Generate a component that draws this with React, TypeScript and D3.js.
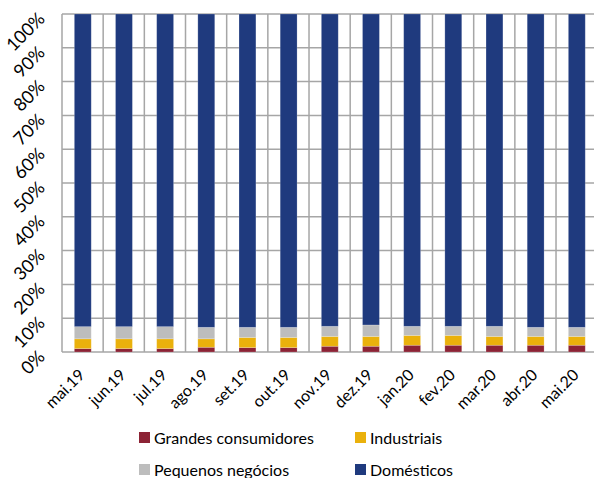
import React from 'react';
import * as d3 from 'd3';

const months = ['mai.19', 'jun.19', 'jul.19', 'ago.19', 'set.19', 'out.19', 'nov.19', 'dez.19', 'jan.20', 'fev.20', 'mar.20', 'abr.20', 'mai.20'];

// shares in % of total
const grandes = [1.0, 1.0, 1.0, 1.4, 1.3, 1.3, 1.7, 1.7, 2.0, 2.0, 2.0, 2.0, 2.0];
const industriais = [2.9, 2.9, 2.9, 2.5, 3.0, 3.0, 2.9, 2.9, 2.9, 2.9, 2.6, 2.6, 2.6];
const pequenos = [3.6, 3.6, 3.6, 3.4, 3.0, 3.0, 3.0, 3.4, 2.7, 2.7, 3.0, 2.7, 2.7];
const domesticos = months.map((_, i) => 100 - grandes[i] - industriais[i] - pequenos[i]);

const yTicks = [0, 10, 20, 30, 40, 50, 60, 70, 80, 90, 100];

const series = [
  { key: 'grandes', label: 'Grandes consumidores', color: '#8C2335' },
  { key: 'industriais', label: 'Industriais', color: '#EAB10C' },
  { key: 'pequenos', label: 'Pequenos negócios', color: '#BDBDBD' },
  { key: 'domesticos', label: 'Domésticos', color: '#1F3A7E' },
];

const rows = months.map((m, i) => ({
  month: m,
  grandes: grandes[i],
  industriais: industriais[i],
  pequenos: pequenos[i],
  domesticos: domesticos[i],
}));

const font = 'Lato, "Open Sans", sans-serif';
const gridColor = '#A6A6A6';

export default function App() {
  const width = 594;
  const height = 478;
  const left = 62;
  const top = 14;
  const bottom = 352;

  const x = d3.scaleBand().domain(months).range([left, left + 13 * 41.2]).paddingInner(0.59).paddingOuter(0.3);
  const y = d3.scaleLinear().domain([0, 100]).range([bottom, top]);
  const stacked = d3.stack<any>().keys(series.map(s => s.key))(rows);
  const step = x.step();
  const bandStart = (i: number) => left + i * step;

  const legend = [
    { s: series[0], x: 139, y: 438 },
    { s: series[1], x: 355, y: 438 },
    { s: series[2], x: 139, y: 470 },
    { s: series[3], x: 355, y: 470 },
  ];

  return (
    <div style={{ position: 'absolute', left: 0, top: 0 }}>
      <svg width={width} height={height} style={{ display: 'block', fontFamily: font }}>
        <rect width={width} height={height} fill="#fff" />
        {/* horizontal grid */}
        {yTicks.map(t => (
          <line key={'h' + t} x1={left} x2={width} y1={y(t)} y2={y(t)} stroke={gridColor} strokeWidth={1.5} />
        ))}
        {/* vertical grid at category boundaries */}
        {d3.range(0, 14).map(i => (
          <line key={'v' + i} x1={bandStart(i)} x2={bandStart(i)} y1={top} y2={bottom} stroke={gridColor} strokeWidth={1.5} />
        ))}
        {/* bars */}
        {stacked.map((layer, li) => (
          <g key={layer.key} fill={series[li].color}>
            {layer.map((d, i) => (
              <rect
                key={i}
                x={x(months[i])}
                width={x.bandwidth()}
                y={y(d[1])}
                height={y(d[0]) - y(d[1])}
                stroke="rgba(255,255,255,0.25)"
                strokeWidth={0.75}
              />
            ))}
          </g>
        ))}
        {/* y labels */}
        {yTicks.map(t => (
          <text
            key={'yl' + t}
            transform={`translate(46, ${y(t) + 6}) rotate(-45)`}
            textAnchor="end"
            fontSize={18}
            fill="#000"
          >
            {t}%
          </text>
        ))}
        {/* x labels */}
        {months.map(m => (
          <text
            key={'xl' + m}
            transform={`translate(${x(m)! + x.bandwidth() / 2 - 5}, ${368}) rotate(-45)`}
            textAnchor="end"
            dy="0.7em"
            fontSize={16}
            fill="#000"
          >
            {m}
          </text>
        ))}
        {/* legend */}
        {legend.map(l => (
          <g key={l.s.key} transform={`translate(${l.x}, ${l.y})`}>
            <rect x={0} y={-6} width={11} height={11} fill={l.s.color} />
            <text x={15} y={0} dy="0.35em" fontSize={16} fill="#000">{l.s.label}</text>
          </g>
        ))}
      </svg>
    </div>
  );
}
